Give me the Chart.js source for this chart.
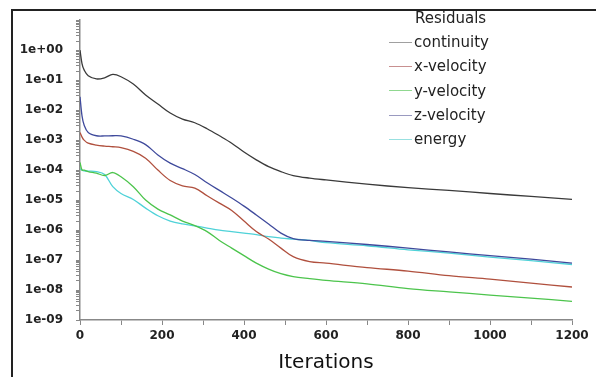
<!DOCTYPE html>
<html>
<head>
<meta charset="utf-8">
<script src="https://cdn.jsdelivr.net/npm/chart.js@4/dist/chart.umd.min.js"></script>
<style>
  body { margin: 0; background: #fff; }
  #wrap { position: relative; width: 597px; height: 377px; }
  #legend { position: absolute; left: 389px; top: 7px; font-family: "DejaVu Sans", sans-serif; font-size: 15px; color: #222; }
  #legend .title { margin-left: 26px; height: 23px; line-height: 23px; }
  #legend .row { display: flex; align-items: center; height: 24.3px; }
  #legend .swatch { width: 23px; height: 0; border-top: 1.5px solid; margin-right: 2px; }
</style>
</head>
<body>
<div id="wrap">
  <canvas id="residualChart" width="597" height="377"></canvas>
  <div id="legend"><div class="title">Residuals</div></div>
</div>
<script>
// Iteration numbers where the residuals were sampled
const iterations = [0, 5, 10, 20, 40, 60, 80, 100, 130, 160, 190, 220, 250, 280, 310, 340, 370, 400, 430, 460, 490, 520, 560, 600, 700, 800, 900, 1000, 1100, 1200];

// Residual values
const continuity = [1, 0.35, 0.22, 0.14, 0.11, 0.12, 0.155, 0.13, 0.074, 0.032, 0.016, 0.008, 0.005, 0.0038, 0.0024, 0.0014, 7.9e-4, 4.0e-4, 2.2e-4, 1.3e-4, 8.9e-5, 6.6e-5, 5.4e-5, 4.7e-5, 3.4e-5, 2.6e-5, 2.1e-5, 1.66e-5, 1.32e-5, 1.05e-5];
const xVelocity = [1.8e-3, 1.26e-3, 1.0e-3, 7.9e-4, 6.8e-4, 6.3e-4, 6.0e-4, 5.6e-4, 4.2e-4, 2.5e-4, 1.0e-4, 4.5e-5, 3.0e-5, 2.5e-5, 1.4e-5, 7.9e-6, 4.5e-6, 2.0e-6, 8.9e-7, 5.0e-7, 2.5e-7, 1.3e-7, 8.9e-8, 7.9e-8, 5.6e-8, 4.3e-8, 3.0e-8, 2.3e-8, 1.7e-8, 1.26e-8];
const yVelocity = [1.8e-4, 1.0e-4, 1.0e-4, 8.9e-5, 7.9e-5, 6.6e-5, 8.3e-5, 6.0e-5, 2.8e-5, 1.0e-5, 5.0e-6, 3.2e-6, 2.0e-6, 1.4e-6, 8.9e-7, 4.5e-7, 2.5e-7, 1.4e-7, 7.9e-8, 5.0e-8, 3.5e-8, 2.8e-8, 2.4e-8, 2.1e-8, 1.6e-8, 1.12e-8, 8.7e-9, 6.8e-9, 5.4e-9, 4.2e-9];
const zVelocity = [0.028, 6.3e-3, 3.2e-3, 1.8e-3, 1.4e-3, 1.38e-3, 1.4e-3, 1.38e-3, 1.07e-3, 7.1e-4, 3.2e-4, 1.7e-4, 1.12e-4, 7.1e-5, 3.8e-5, 2.1e-5, 1.17e-5, 6.3e-6, 3.2e-6, 1.6e-6, 7.9e-7, 5.2e-7, 4.5e-7, 4.2e-7, 3.3e-7, 2.5e-7, 1.86e-7, 1.41e-7, 1.07e-7, 7.9e-8];
const energy = [1.1e-4, 1.0e-4, 9.5e-5, 9.3e-5, 8.9e-5, 7.1e-5, 2.8e-5, 1.66e-5, 1.05e-5, 5.4e-6, 3.0e-6, 2.0e-6, 1.6e-6, 1.38e-6, 1.17e-6, 1.0e-6, 8.9e-7, 7.9e-7, 7.1e-7, 6.0e-7, 5.4e-7, 5.0e-7, 4.5e-7, 3.8e-7, 3.0e-7, 2.2e-7, 1.7e-7, 1.26e-7, 9.5e-8, 7.1e-8];

const seriesNames = ['continuity', 'x-velocity', 'y-velocity', 'z-velocity', 'energy'];
const seriesColors = ['#3a3a3a', '#b0503e', '#4cc44c', '#3f4a9c', '#4fd2d8'];
const legendColors = ['#a0a0a0', '#c89090', '#90d890', '#9a9ac0', '#98e0e0'];

// log axis runs from 1e-09 to 1e+01, ticks at every 1..9 x 10^k
const yMin = 1e-9;
const yMax = 10;

const allSeries = [continuity, xVelocity, yVelocity, zVelocity, energy];

const datasets = allSeries.map((values, i) => ({
    label: seriesNames[i],
    data: values.map((v, j) => ({ x: iterations[j], y: v })),
    borderColor: seriesColors[i],
    borderWidth: 1.3,
    pointRadius: 0,
    tension: 0.35,
    fill: false
}));

// Draw the frame (left + top) behind the chart
const framePlugin = {
    id: 'frame',
    beforeDraw(chart) {
        const c = chart.ctx;
        c.save();
        c.fillStyle = '#fff';
        c.fillRect(0, 0, chart.width, chart.height);
        c.strokeStyle = '#222';
        c.lineWidth = 2;
        c.beginPath();
        c.moveTo(12, chart.height);
        c.lineTo(12, 10);
        c.lineTo(chart.width - 1, 10);
        c.stroke();
        c.restore();
    }
};

const ctx = document.getElementById('residualChart').getContext('2d');
const residualChart = new Chart(ctx, {
    type: 'line',
    data: { datasets: datasets },
    plugins: [framePlugin],
    options: {
        responsive: false,
        animation: false,
        layout: { padding: { top: 11, right: 25, left: 0, bottom: 0 } },
        plugins: {
            legend: { display: false },
            tooltip: { enabled: false }
        },
        scales: {
            x: {
                type: 'linear',
                min: 0,
                max: 1200,
                afterFit: scale => { scale.height = 57; },
                grid: { drawOnChartArea: false, drawTicks: true, tickLength: 5, color: '#888' },
                border: { display: true, color: '#888', width: 1.5 },
                ticks: {
                    stepSize: 100,
                    autoSkip: false,
                    maxRotation: 0,
                    padding: 4,
                    color: '#222',
                    font: { family: 'DejaVu Sans', size: 12, weight: 'bold' },
                    callback: value => (value % 200 === 0 ? String(value) : '')
                },
                title: {
                    display: true,
                    text: 'Iterations',
                    color: '#111',
                    font: { family: 'DejaVu Sans', size: 20 },
                    padding: { top: 0, bottom: 2 }
                }
            },
            y: {
                type: 'logarithmic',
                min: yMin,
                max: yMax,
                afterFit: scale => { scale.width = 80; },
                afterBuildTicks: scale => {
                    const ticks = [];
                    for (let k = -9; k <= 0; k++) {
                        for (let m = 1; m <= 9; m++) {
                            ticks.push({ value: Number((m * Math.pow(10, k)).toPrecision(3)) });
                        }
                    }
                    ticks.push({ value: 10 });
                    scale.ticks = ticks;
                },
                grid: { drawOnChartArea: false, drawTicks: true, tickLength: 4, color: '#888' },
                border: { display: true, color: '#888', width: 1.5 },
                ticks: {
                    autoSkip: false,
                    padding: 13,
                    color: '#222',
                    font: { family: 'DejaVu Sans', size: 12, weight: 'bold' },
                    callback: value => {
                        const e = Math.round(Math.log10(value));
                        if (Math.abs(value - Math.pow(10, e)) > 1e-6 * Math.pow(10, e) || e > 0) return '';
                        const abs = Math.abs(e);
                        return '1e' + (e < 0 ? '-' : '+') + (abs < 10 ? '0' + abs : abs);
                    }
                }
            }
        }
    }
});

// Build the legend list from the series names and colours
const legendBox = document.getElementById('legend');
seriesNames.forEach((name, i) => {
    const row = document.createElement('div');
    row.className = 'row';
    const swatch = document.createElement('span');
    swatch.className = 'swatch';
    swatch.style.borderColor = legendColors[i];
    const text = document.createElement('span');
    text.textContent = name;
    row.appendChild(swatch);
    row.appendChild(text);
    legendBox.appendChild(row);
});
</script>
</body>
</html>
